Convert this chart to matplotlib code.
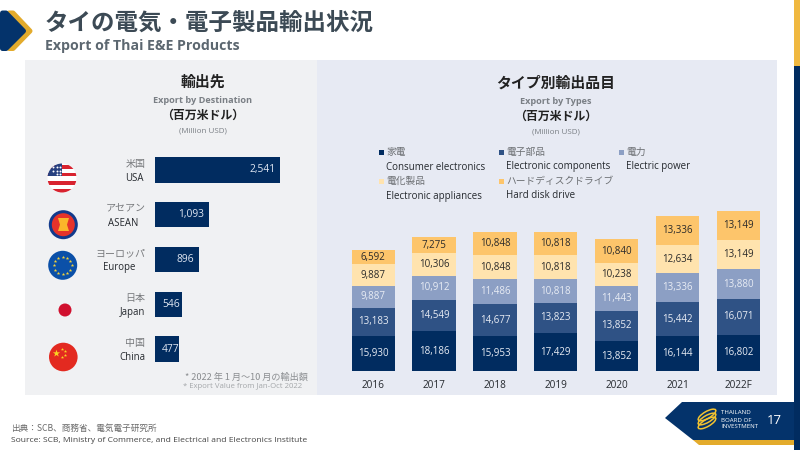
import matplotlib
matplotlib.use("Agg")
import matplotlib.pyplot as plt
from matplotlib.patches import Circle, Ellipse, Polygon, Rectangle

JP = ["Noto Sans CJK JP", "DejaVu Sans"]
EN = ["Open Sans", "DejaVu Sans"]
plt.rcParams["font.family"] = JP

# Export by destination.
dest_jp = ["米国", "アセアン", "ヨーロッパ", "日本", "中国"]
dest_en = ["USA", "ASEAN", "Europe", "Japan", "China"]
dest_values = [2541, 1093, 896, 546, 477]

# Export by types.
years = ["2016", "2017", "2018", "2019", "2020", "2021", "2022F"]
consumer = [15930, 18186, 15953, 17429, 13852, 16144, 16802]
components = [13183, 14549, 14677, 13823, 13852, 15442, 16071]
power = [9887, 10912, 11486, 10818, 11443, 13336, 13880]
appliances = [9887, 10306, 10848, 10818, 10238, 12634, 13149]
hdd = [6592, 7275, 10848, 10818, 10840, 13336, 13149]
series = [consumer, components, power, appliances, hdd]
series_jp = ["家電", "電子部品", "電力", "電化製品", "ハードディスクドライブ"]
series_en = ["Consumer electronics", "Electronic components", "Electric power",
             "Electronic appliances", "Hard disk drive"]
colors = ["#012c60", "#2f5285", "#8c9fc4", "#ffe3ae", "#fdc56b"]
label_colors = ["#e8ecf4", "#e8ecf4", "#e8ecf4", "#2a2a2a", "#2a2a2a"]

NAVY = "#012c60"
GOLD = "#e3ab2c"
W, H = 800, 450


def px_axes(fig, left, top, right, bottom):
    return fig.add_axes([left / W, 1 - bottom / H, (right - left) / W, (bottom - top) / H])


fig = plt.figure(figsize=(8, 4.5), dpi=100, facecolor="white")

# Page layer, in pixels.
bg = fig.add_axes([0, 0, 1, 1])
bg.set_xlim(0, W)
bg.set_ylim(H, 0)
bg.axis("off")

bg.add_patch(Rectangle((25, 60), 292, 335, color="#f0f1f3", lw=0))
bg.add_patch(Rectangle((317, 60), 460, 335, color="#e7eaf3", lw=0))
bg.add_patch(Rectangle((794, 0), 6, 66, color="#f0b840", lw=0))
bg.add_patch(Rectangle((794, 66), 6, 384, color=NAVY, lw=0))

# Header icon.
bg.add_patch(Polygon([(9, 13), (13, 13), (30, 31), (13, 48.5), (9, 48.5)], closed=True,
                     fc=GOLD, ec=GOLD, joinstyle="round", lw=3.6))
bg.add_patch(Polygon([(2.5, 13), (6, 13), (23.5, 31), (6, 48.5), (2.5, 48.5)], closed=True,
                     fc="#04336b", ec="#04336b", joinstyle="round", lw=3.6))

# Header and footer text.
bg.text(45, 23, "タイの電気・電子製品輸出状況", fontsize=16.9, fontweight="bold",
        color="#3c4a55", va="center")
bg.text(45, 46, "Export of Thai E&E Products", fontsize=10.2, fontweight="bold",
        color="#5c6770", va="center", family=EN)
bg.text(11, 428, "出典：SCB、商務省、電気電子研究所", fontsize=6.2, color="#6a6a6a", va="center")
bg.text(11, 440, "Source: SCB, Ministry of Commerce, and Electrical and Electronics Institute",
        fontsize=6.1, color="#444444", va="center", family=EN)

# Panel titles.
for x, y0, jp, en in [(203, 82, "輸出先", "Export by Destination"),
                      (556, 83, "タイプ別輸出品目", "Export by Types")]:
    bg.text(x, y0, jp, fontsize=10.7, fontweight="bold", color="#222222", ha="center", va="center")
    bg.text(x, y0 + 18.5, en, fontsize=6.6, fontweight="bold", color="#7a7f85", ha="center",
            va="center", family=EN)
    bg.text(x, y0 + 33.5, "（百万米ドル）", fontsize=8.6, fontweight="bold", color="#222222",
            ha="center", va="center")
    bg.text(x, y0 + 49, "(Million USD)", fontsize=5.8, color="#7a7f85", ha="center",
            va="center", family=EN)

# Footnote.
bg.text(308, 377, "* 2022 年 1 月～10 月の輸出額", fontsize=6.6, color="#8a8d90", ha="right", va="center")
bg.text(302, 387, "* Export Value from Jan-Oct 2022", fontsize=5.6, color="#a4a7aa", ha="right",
        va="center", family=EN)

# Legend.
legend_spots = [(381, 152), (501, 152), (621, 152), (381, 181), (501, 181)]
for (x, y), c, jp, en in zip(legend_spots, colors, series_jp, series_en):
    bg.add_patch(Rectangle((x - 2.5, y - 2.5), 5, 5, color=c, lw=0))
    bg.text(x + 5.5, y, jp, fontsize=7, color="#6c6f73", va="center")
    bg.text(x + 5.5, y + 15, en, fontsize=7, color="#25292e", va="center", family=EN)

# Flags.
usa = Circle((62, 178), 14.5, color="white", lw=0)
bg.add_patch(usa)
for y in [165, 172.5, 181, 189]:
    s = bg.add_patch(Rectangle((47, y), 30, 3.6, color="#d8232f", lw=0))
    s.set_clip_path(usa)
c = bg.add_patch(Rectangle((47, 163), 15, 13, color="#27407f", lw=0))
c.set_clip_path(usa)
bg.scatter([53, 57, 60, 53, 57, 60, 57, 60], [167, 167, 167, 171, 171, 171, 174, 174],
           s=2, color="white", lw=0, zorder=3)

bg.add_patch(Circle((63.3, 224.7), 14.5, color="#123a8c", lw=0))
bg.add_patch(Circle((63.3, 224.7), 11.5, color="#e6332a", lw=0))
bg.add_patch(Polygon([(58, 218), (69, 218), (67, 224.7), (69, 231), (58, 231), (60, 224.7)],
                     closed=True, color="#fbb62a", lw=0))

bg.add_patch(Circle((62.7, 265.3), 14.5, color="#0b50a8", lw=0))
bg.scatter([62.7, 67, 70.3, 71.5, 70.3, 67, 62.7, 58.4, 55.1, 53.9, 55.1, 58.4],
           [256.8, 258, 261, 265.3, 269.6, 272.6, 273.8, 272.6, 269.6, 265.3, 261, 258],
           s=7, marker="*", color="#f5d33a", lw=0, zorder=3)

bg.add_patch(Circle((65, 310), 6.5, color="#d0102e", lw=0))

bg.add_patch(Circle((63.3, 357), 14.3, color="#e32a20", lw=0))
bg.scatter([56], [352.5], s=30, marker="*", color="#f9d423", lw=0, zorder=3)
bg.scatter([62, 64.5, 64.5, 62], [348.5, 351, 354.5, 357], s=6, marker="*", color="#f9d423",
           lw=0, zorder=3)

# Footer badge.
bg.add_patch(Polygon([(693, 440), (794, 440), (794, 445), (699, 445)], closed=True, color=GOLD, lw=0))
bg.add_patch(Polygon([(682, 402), (794, 402), (794, 440), (693, 440), (665, 418)], closed=True,
                     color="#04336b", lw=0))
for dy in [-4, 0, 4]:
    bg.add_patch(Ellipse((707, 419 + dy), 20, 7, angle=-30, fill=False, ec="#f2c230", lw=1.1))
for y, t in [(413, "THAILAND"), (420, "BOARD OF"), (426, "INVESTMENT")]:
    bg.text(721, y, t, fontsize=4.4, color="white", va="center", family=EN)
bg.text(774, 420.5, "17", fontsize=9.5, color="white", ha="center", va="center", family=EN)

# Destination bars.
ax1 = px_axes(fig, 155, 147.6, 280.3, 371.4)
ax1.patch.set_visible(False)
y_pos = range(len(dest_values))
ax1.barh(y_pos, dest_values, height=0.57, color=NAVY)
ax1.set_xlim(0, max(dest_values))
ax1.set_ylim(len(dest_values) - 0.5, -0.5)
ax1.axis("off")
en_gap = [8, 12, 14, 7, 7]
for i, v in enumerate(dest_values):
    if v < 600:
        ax1.annotate(f"{v:,}", xy=(0, i), xytext=(5, 0), textcoords="offset points", ha="left",
                     va="center", fontsize=7.4, color="#dfe6f2", family=EN)
    else:
        ax1.annotate(f"{v:,}", xy=(v, i), xytext=(-3.6, 0), textcoords="offset points", ha="right",
                     va="center", fontsize=7.4, color="#dfe6f2", family=EN)
    ax1.annotate(dest_jp[i], xy=(0, i), xytext=(-7, 4.3), textcoords="offset points", ha="right",
                 va="center", fontsize=7.2, color="#77797c", annotation_clip=False)
    ax1.annotate(dest_en[i], xy=(0, i), xytext=(-en_gap[i], -6), textcoords="offset points", ha="right",
                 va="center", fontsize=6.9, color="#25292e", family=EN, annotation_clip=False)

# Stacked bars by type.
ax2 = px_axes(fig, 342.9, 205, 768.7, 371.3)
ax2.patch.set_visible(False)
x_pos = list(range(len(years)))
bottom = [0] * len(years)
for vals, c, lc in zip(series, colors, label_colors):
    bars = ax2.bar(x_pos, vals, bottom=bottom, width=0.712, color=c)
    ax2.bar_label(bars, labels=[f"{v:,}" for v in vals], label_type="center", fontsize=7,
                  color=lc, family=EN)
    bottom = [b + v for b, v in zip(bottom, vals)]
ax2.set_xlim(-0.5, len(years) - 0.5)
ax2.set_ylim(0, 166.3 / 0.00219)
ax2.set_xticks(x_pos, years, family=EN, fontsize=7.2, color="#25292e")
ax2.tick_params(axis="x", length=0, pad=6)
ax2.set_yticks([])
for side in ax2.spines.values():
    side.set_visible(False)

fig.savefig("out.png", dpi=100)
